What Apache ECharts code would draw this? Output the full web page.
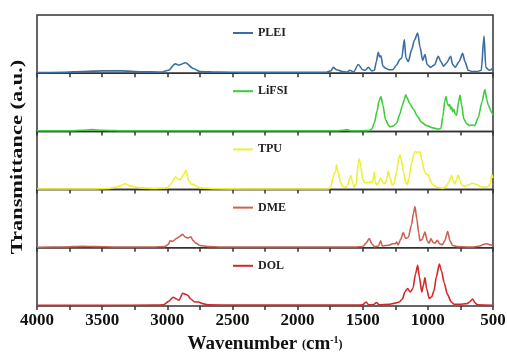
<!DOCTYPE html>
<html><head><meta charset="utf-8">
<script src="https://cdn.jsdelivr.net/npm/echarts@6/dist/echarts.min.js"></script>
<style>html,body{margin:0;padding:0;background:#fff}#c{width:507px;height:352px}</style>
</head><body><div id="c"></div>
<script>
const seriesNames = ['PLEI','LiFSI','TPU','DME','DOL'];
const colors = ['#3a6fa6','#3ccc3c','#f0f032','#cc6252','#d02a2a'];
const xTicks = [4000,3500,3000,2500,2000,1500,1000,500];

const PLEI = [[4000,1],[3800,1.5],[3650,3],[3500,4],[3350,4],[3200,2.5],[3050,2],[2990,5],[2940,16],[2910,14],[2860,18],[2800,8],[2750,3],[2600,2],[2400,1.5],[2000,1.5],[1780,1.5],[1745,4],[1726,10],[1700,6],[1660,3],[1620,2],[1598,5],[1570,2],[1534,15],[1500,6],[1480,5],[1457,10],[1430,4],[1410,5],[1395,20],[1381,36],[1370,28],[1360,30],[1345,12],[1320,8],[1300,6],[1270,6],[1240,14],[1214,24],[1200,26],[1181,58],[1168,26],[1150,20],[1125,40],[1104,56],[1078,69],[1060,45],[1040,22],[1022,32],[1005,15],[980,10],[950,14],[920,29],[900,20],[880,12],[855,18],[825,29],[810,15],[790,10],[760,20],[733,34],[715,20],[690,5],[660,3],[620,3],[590,5],[569,64],[555,10],[530,5],[500,8]];

const LiFSI = [[4000,1],[3750,1],[3650,2],[3578,3],[3500,2],[3300,1],[2000,1],[1700,1],[1650,2],[1623,3],[1590,1],[1500,1],[1450,1.5],[1430,4],[1410,15],[1390,35],[1375,52],[1360,60],[1345,45],[1325,20],[1300,10],[1290,8],[1270,9],[1240,14],[1215,30],[1195,45],[1180,55],[1170,63],[1160,58],[1140,48],[1110,38],[1080,26],[1050,16],[1010,10],[960,6],[920,4],[900,5],[885,25],[870,52],[861,60],[850,48],[840,44],[832,46],[825,38],[817,42],[810,34],[800,38],[790,30],[779,28],[765,50],[753,62],[740,45],[725,22],[702,13],[680,10],[660,11],[640,10],[613,24],[585,50],[562,72],[548,55],[536,45],[511,33],[500,28]];

const TPU = [[4000,1],[3600,1],[3450,2],[3380,5],[3325,10],[3280,6],[3200,3],[3100,2],[3000,3],[2970,10],[2938,22],[2915,18],[2900,17],[2875,26],[2856,33],[2835,15],[2815,9],[2797,9],[2770,5],[2750,3],[2650,1.5],[2400,1],[1800,1],[1760,1],[1745,5],[1730,20],[1720,28],[1710,30],[1700,42],[1690,30],[1670,12],[1650,5],[1632,4],[1615,8],[1600,20],[1592,24],[1580,14],[1565,4],[1550,10],[1535,45],[1526,53],[1515,40],[1500,18],[1485,12],[1460,12],[1440,13],[1425,12],[1415,25],[1411,30],[1405,15],[1395,8],[1380,12],[1360,20],[1345,12],[1330,10],[1315,18],[1304,32],[1290,20],[1275,8],[1260,10],[1240,30],[1225,52],[1214,60],[1200,48],[1185,28],[1170,12],[1158,9],[1145,20],[1125,45],[1110,60],[1099,65],[1080,64],[1060,65],[1045,50],[1030,34],[1022,30],[1010,26],[995,25],[980,14],[960,8],[930,4],[900,3],[884,2],[860,6],[840,12],[825,22],[817,24],[805,14],[792,10],[780,18],[767,25],[755,16],[740,8],[720,6],[690,8],[660,11],[640,10],[620,8],[590,5],[560,4],[540,5],[520,10],[510,26],[500,20]];

const DME = [[4000,1],[3800,1.5],[3650,2.5],[3550,2],[3400,1.5],[3100,1.5],[3020,2],[2990,6],[2979,12],[2960,11],[2930,16],[2910,19],[2882,23],[2860,18],[2840,17],[2820,19],[2800,12],[2780,8],[2750,4],[2680,2],[2600,1.5],[2000,1.5],[1550,1.5],[1500,2],[1475,8],[1450,16],[1430,7],[1410,2],[1380,3],[1362,12],[1350,3],[1320,4],[1290,5],[1270,7],[1250,7],[1240,10],[1228,5],[1210,14],[1189,26],[1170,16],[1150,18],[1125,40],[1110,60],[1099,71],[1085,50],[1070,25],[1060,12],[1045,14],[1022,27],[1005,12],[990,8],[976,16],[960,9],[945,8],[928,13],[910,7],[890,5],[870,12],[848,28],[830,12],[810,4],[773,2],[700,1.5],[650,1.5],[600,3],[570,6],[549,7],[520,5],[500,4]];

const DOL = [[4000,1],[3500,1],[3100,1.5],[3030,2],[2990,8],[2954,15],[2930,12],[2910,10],[2882,22],[2860,20],[2846,19],[2820,12],[2790,7],[2760,7],[2730,4],[2680,2],[2500,1.5],[2000,1.5],[1550,1.5],[1500,2],[1474,7],[1455,2],[1420,2],[1392,6],[1375,2],[1300,3],[1250,5],[1220,7],[1195,12],[1175,25],[1155,30],[1135,24],[1115,30],[1095,55],[1078,70],[1065,50],[1047,24],[1035,35],[1022,49],[1010,30],[989,13],[970,16],[953,26],[935,50],[912,72],[895,60],[875,40],[850,20],[820,7],[800,3],[760,3],[700,4],[680,7],[656,12],[640,6],[620,2],[500,1]];

const allData = [PLEI, LiFSI, TPU, DME, DOL];
const FONT = "'Liberation Serif','Times New Roman',serif";
const panelTop = 15, panelH = 58.2, leftPx = 37, rightPx = 14;

const grid = [], xAxis = [], yAxis = [], series = [], legend = [];
for (let i = 0; i < 5; i++) {
  const last = i === 4;
  grid.push({left: leftPx, right: rightPx, top: panelTop + i*panelH, height: panelH, show: true,
    borderColor: '#333', borderWidth: 1.5, backgroundColor: 'transparent',
    containLabel: false, outerBoundsMode: 'none'});
  xAxis.push({
    gridIndex: i, type: 'value', min: 500, max: 4000, interval: 250, inverse: true,
    axisLine: {show: false}, splitLine: {show: false},
    axisTick: {show: true, inside: false, length: 4, lineStyle: {color: '#333', width: 1.5}},
    axisLabel: {show: last, margin: 6, fontFamily: FONT, fontWeight: 'bold', fontSize: 17, color: '#111',
      formatter: v => (xTicks.indexOf(v) >= 0 ? String(v) : '')},
    name: last ? '{a|Wavenumber }{b|(}{a|cm}{c|-1}{b|)}' : '',
    nameLocation: 'middle', nameGap: 29,
    nameTextStyle: {rich: {
      a: {fontFamily: FONT, fontWeight: 'bold', fontSize: 19, color: '#111'},
      b: {fontFamily: FONT, fontWeight: 'bold', fontSize: 12, color: '#111'},
      c: {fontFamily: FONT, fontWeight: 'bold', fontSize: 10, color: '#111', verticalAlign: 'top', padding: [0,0,9,0]}
    }}
  });
  yAxis.push({gridIndex: i, type: 'value', min: 0, max: 100, show: false});
  series.push({
    name: seriesNames[i], type: 'line', xAxisIndex: i, yAxisIndex: i,
    data: allData[i], showSymbol: false, smooth: 0.25, smoothMonotone: 'x',
    lineStyle: {color: colors[i], width: 1.6}, itemStyle: {color: colors[i]}, z: 3
  });
  legend.push({
    data: [seriesNames[i]], left: 233, top: panelTop + i*panelH + 12, padding: 0,
    icon: 'rect', itemWidth: 20, itemHeight: 2, itemGap: 4,
    textStyle: {fontFamily: FONT, fontWeight: 'bold', fontSize: 12, color: '#222', padding: [0,0,0,0]}
  });
}

const chart = echarts.init(document.getElementById('c'), null, {renderer: 'canvas'});
chart.setOption({
  animation: false, backgroundColor: '#fff',
  grid, xAxis, yAxis, series, legend,
  graphic: [{type: 'text', x: 18, y: 157, rotation: Math.PI/2, scaleX: 1.32, scaleY: 1,
    style: {text: 'Transmittance (a.u.)', font: "bold 17px 'Liberation Serif', serif", fill: '#111', textAlign: 'center', textVerticalAlign: 'middle'}}]
});
</script></body></html>
